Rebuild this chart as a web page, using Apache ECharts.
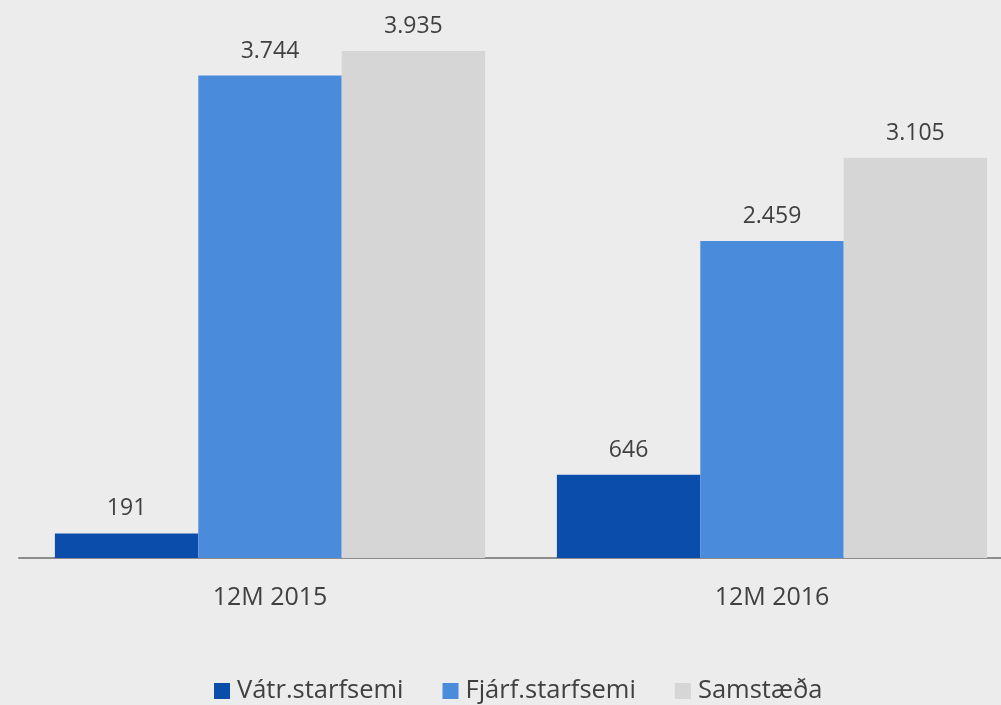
<!DOCTYPE html>
<html><head><meta charset="utf-8">
<script src="https://cdn.jsdelivr.net/npm/echarts@6/dist/echarts.min.js"></script>
<style>html,body{margin:0;padding:0;background:#ececec}#c{width:1001px;height:705px}</style>
</head><body><div id="c"></div>
<script>
const categories = ['12M 2015', '12M 2016'];
const seriesNames = ['Vátr.starfsemi', 'Fjárf.starfsemi', 'Samstæða'];
const vatr = [191, 646];
const fjarf = [3744, 2459];
const samst = [3935, 3105];
const colors = ['#0a4dab', '#4a8bdb', '#d6d6d6'];
const values = [vatr, fjarf, samst];

const chart = echarts.init(document.getElementById('c'));
const font = '"Open Sans", sans-serif';
chart.setOption({
  backgroundColor: '#ececec',
  animation: false,
  grid: { left: 19, width: 1004, top: 0, bottom: 147, outerBoundsMode: 'none', containLabel: false },
  xAxis: {
    type: 'category', data: categories,
    axisLine: { lineStyle: { color: '#8c8c8c', width: 2 } },
    axisTick: { show: false },
    axisLabel: { color: '#404040', fontFamily: font, fontSize: 25, margin: 27 }
  },
  yAxis: { type: 'value', min: 0, max: 4330, show: false, splitLine: { show: false } },
  legend: {
    top: 673, left: 209, itemWidth: 16, itemHeight: 16, itemGap: 39,
    icon: 'rect',
    textStyle: { color: '#404040', fontFamily: font, fontSize: 25.5, padding: [0,0,0,2] },
    data: seriesNames
  },
  series: seriesNames.map((n, i) => ({
    name: n, type: 'bar', data: values[i],
    barGap: '0%', barCategoryGap: '14.3%',
    itemStyle: { color: colors[i] },
    label: {
      show: true, position: 'top', distance: 13,
      color: '#404040', fontFamily: font, fontSize: 23,
      formatter: p => p.value >= 1000 ? String(p.value).replace(/(\d)(?=(\d{3})+$)/, '$1.') : String(p.value)
    }
  }))
});
</script></body></html>
